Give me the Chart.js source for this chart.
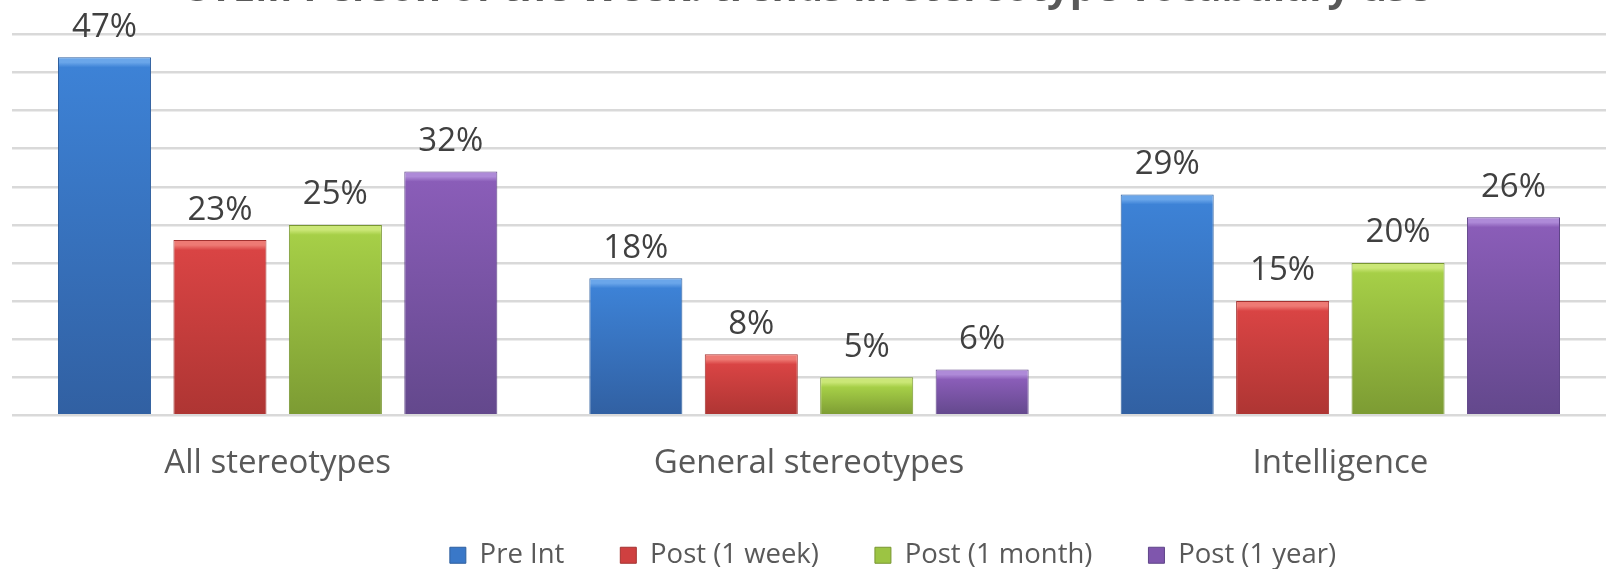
<!DOCTYPE html>
<html><head><meta charset="utf-8">
<script src="https://cdn.jsdelivr.net/npm/chart.js@4.4.1/dist/chart.umd.min.js"></script>
<style>
html,body{margin:0;padding:0;overflow:hidden;background:#fff;width:1606px;height:569px;position:relative}
#wrap{position:absolute;left:0;top:-34px;width:1606px;height:613px}
</style>
</head><body><div id="wrap"><canvas id="c" width="1606" height="613"></canvas></div>
<script>
// ---- data ----
const titleText = 'STEM Person of the Week: trends in stereotype vocabulary use';
const categories = ['All stereotypes', 'General stereotypes', 'Intelligence'];
const seriesNames = ['Pre Int', 'Post (1 week)', 'Post (1 month)', 'Post (1 year)'];
const preInt = [47, 18, 29];
const post1Week = [23, 8, 15];
const post1Month = [25, 5, 20];
const post1Year = [32, 6, 26];
const yMin = 0, yMax = 50, yStep = 5;

// ---- styles ----
const palettes = [
  {bevel:'#6aa6ea', top:'#3d82d6', bottom:'#3160a2', border:'#2f5f9e', legend:'#3a78c8'},
  {bevel:'#ee7a74', top:'#d94444', bottom:'#ae3533', border:'#a33230', legend:'#cf4040'},
  {bevel:'#cbe777', top:'#a6cf47', bottom:'#7c9b33', border:'#789632', legend:'#9cc443'},
  {bevel:'#ae8ad8', top:'#8a5db8', bottom:'#63488c', border:'#5f4588', legend:'#7f56ad'}
];
const seriesValues = [preInt, post1Week, post1Month, post1Year];

function barFill(p) {
  return (ctx) => {
    const chart = ctx.chart;
    const ys = chart.scales && chart.scales.y;
    if (!ys || ctx.raw === undefined || !chart.chartArea) return p.top;
    const yTop = ys.getPixelForValue(ctx.raw);
    const yBot = ys.getPixelForValue(0);
    const h = Math.max(1, yBot - yTop);
    const g = chart.ctx.createLinearGradient(0, yTop, 0, yBot);
    const b = Math.min(0.5, 10 / h);
    g.addColorStop(0, p.bevel);
    g.addColorStop(b * 0.5, p.bevel);
    g.addColorStop(b, p.top);
    g.addColorStop(1, p.bottom);
    return g;
  };
}

const datasets = seriesNames.map((name, i) => ({
  label: name,
  data: seriesValues[i],
  backgroundColor: barFill(palettes[i]),
  borderColor: palettes[i].border,
  borderWidth: 1,
  categoryPercentage: 0.869,
  barPercentage: 0.806
}));

const valueLabels = {
  id: 'valueLabels',
  afterDatasetsDraw(chart) {
    const ctx = chart.ctx;
    ctx.save();
    ctx.font = '33px "Open Sans"';
    ctx.fillStyle = '#404040';
    ctx.textAlign = 'center';
    ctx.textBaseline = 'middle';
    chart.data.datasets.forEach((ds, i) => {
      chart.getDatasetMeta(i).data.forEach((bar, j) => {
        ctx.fillText(ds.data[j] + '%', bar.x, bar.y - 30);
      });
    });
    ctx.restore();
  }
};

const shiftLegend = {
  id: 'shiftLegend',
  afterLayout(chart) {
    const lg = chart.legend;
    if (lg) { lg.left += 84; lg.right += 84; }
  }
};

new Chart(document.getElementById('c'), {
  type: 'bar',
  data: { labels: categories, datasets },
  options: {
    responsive: false,
    animation: false,
    devicePixelRatio: 1,
    layout: { padding: { left: 12, right: 0, top: 0, bottom: 0 } },
    scales: {
      x: {
        grid: { display: false, drawTicks: false },
        border: { display: false },
        ticks: { color: '#595959', font: { family: 'Open Sans', size: 33 }, padding: 29 },
        afterFit: (s) => { s.height = 70.25; }
      },
      y: {
        min: yMin, max: yMax,
        ticks: { display: false, stepSize: yStep },
        grid: { color: '#d9d9d9', lineWidth: 2.5, drawTicks: false },
        border: { display: false }
      }
    },
    plugins: {
      title: {
        display: true, text: titleText, color: '#595959',
        font: { family: 'Open Sans', size: 40, weight: 'bold' },
        padding: { top: 0, bottom: 20.5 }
      },
      legend: {
        position: 'bottom',
        labels: {
          color: '#595959',
          font: { family: 'Open Sans', size: 27.5 },
          boxWidth: 16, boxHeight: 16,
          padding: 56,
          generateLabels: (chart) => chart.data.datasets.map((ds, i) => ({
            text: ds.label, fillStyle: palettes[i].legend, strokeStyle: palettes[i].border,
            lineWidth: 1, datasetIndex: i, hidden: false, fontColor: '#595959'
          }))
        }
      },
      tooltip: { enabled: false }
    }
  },
  plugins: [valueLabels, shiftLegend]
});
</script>
</body></html>
